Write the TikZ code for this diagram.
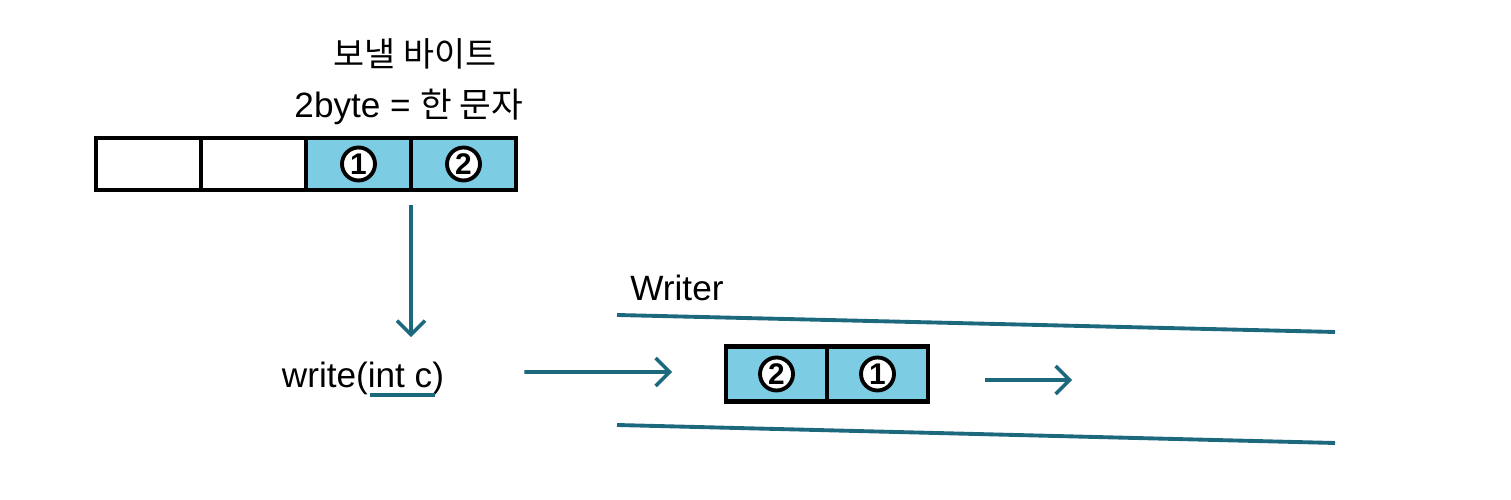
\documentclass[tikz,border=0pt]{standalone}
\usepackage{fontspec}
\setmainfont{Liberation Sans}
\newfontfamily\kr{Noto Sans CJK KR}
\usetikzlibrary{arrows.meta,positioning}
\definecolor{strteal}{RGB}{28,104,124}
\definecolor{bytecyan}{RGB}{124,204,228}
\begin{document}
\begin{tikzpicture}[every node/.style={font=\fontsize{10}{12}\selectfont},
      cell/.style={draw,line width=1.2pt,minimum width=1.05cm,minimum height=0.52cm,outer sep=0pt,inner sep=0pt},
      full/.style={cell,fill=bytecyan},
      num/.style={circle,draw,line width=1.1pt,fill=white,inner sep=0pt,minimum size=0.33cm,font=\fontsize{8.5}{9}\selectfont\bfseries},
      flow/.style={draw=strteal,line width=1pt,-{Straight Barb[length=1.4mm,width=2.8mm]}},
      pipe/.style={draw=strteal,line width=1.1pt}]
    \useasboundingbox (0,0) rectangle (15.11,5);
    % bytes to send
    \node[cell] (a1) at (1.485,3.36) {};
    \node[cell,right=0pt of a1] (a2) {};
    \node[full,right=0pt of a2] (a3) {\tikz\node[num]{1};};
    \node[full,right=0pt of a3] (a4) {\tikz\node[num]{2};};
    \node[anchor=base east,inner sep=0pt] (lbl1) at (4.97,4.33) {\kr\fontsize{9.6}{11}\selectfont 보낼 바이트};
    \node[anchor=base east,inner sep=0pt] (lbl2) at (5.24,3.82) {2byte = {\kr\fontsize{9.8}{11}\selectfont 한 문자}};
    % write call
    \node (wr) at (3.63,1.22) {write(int c)};
    \draw[pipe] (3.70,1.05) -- (4.35,1.05);
    \draw[flow,shorten <=1.5mm,shorten >=1.2mm] (a3.south east) -- (wr.north -| a3.south east);
    % stream
    \node[anchor=west] (wtr) at (6.18,2.12) {Writer};
    \draw[pipe] (6.17,1.85) -- (13.35,1.68);
    \draw[pipe] (6.17,0.75) -- (13.35,0.57);
    \node[full,minimum width=1.01cm,minimum height=0.55cm] (b1) at (7.765,1.26) {\tikz\node[num]{2};};
    \node[full,minimum width=1.01cm,minimum height=0.55cm,right=0pt of b1] (b2) {\tikz\node[num]{1};};
    \coordinate (out) at (10.72,1.2);
    \draw[flow,shorten <=0.68cm,shorten >=0.54cm] ([yshift=0.6mm]wr.east) -- ([yshift=0.2mm]b1.west);
    \draw[flow,shorten <=0.57cm] (b2.east |- out) -- (out);
  \end{tikzpicture}
\end{document}
